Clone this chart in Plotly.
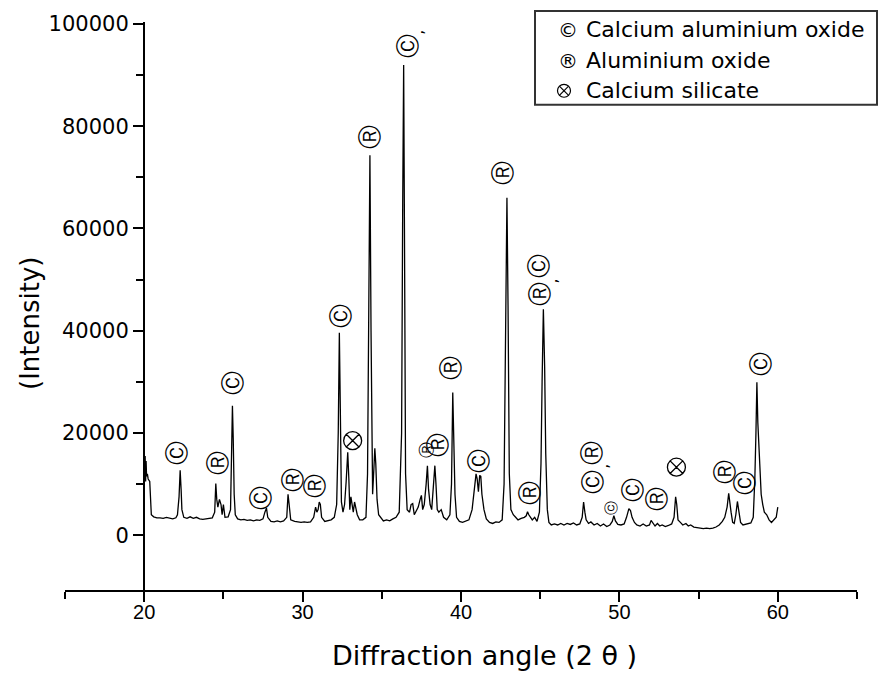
import plotly.graph_objects as go

# ---- XRD pattern (2-theta in degrees, intensity in counts) ----
two_theta = [
    20.00, 20.03, 20.06, 20.09, 20.12, 20.15, 20.20, 20.25, 20.35, 20.45, 20.60, 20.80,
    21.00, 21.20, 21.40, 21.60, 21.80, 22.00, 22.10, 22.20, 22.27, 22.33, 22.38, 22.50, 22.70, 22.90, 23.10, 23.30, 23.50, 23.70, 23.90, 24.10, 24.30,
    24.45, 24.52, 24.58, 24.65, 24.75, 24.85, 24.92, 25.00, 25.10, 25.30, 25.45, 25.52, 25.57, 25.62, 25.68, 25.75, 25.90, 26.10, 26.30, 26.50, 26.70, 26.90, 27.10, 27.30, 27.50, 27.62, 27.72, 27.80,
    28.00, 28.20, 28.40, 28.60, 28.80, 29.00, 29.08, 29.15, 29.25, 29.50, 29.70, 29.90, 30.10, 30.30, 30.50, 30.70, 30.82, 30.90, 30.98, 31.05, 31.12, 31.20, 31.40, 31.60, 31.80,
    32.00, 32.15, 32.25, 32.32, 32.38, 32.45, 32.55, 32.65, 32.75, 32.85, 32.92, 32.98, 33.05, 33.12, 33.20, 33.28, 33.35, 33.45, 33.60, 33.80, 34.00, 34.10, 34.18, 34.25, 34.32, 34.42, 34.50, 34.56, 34.62, 34.70, 34.80, 34.95, 35.10, 35.30, 35.50, 35.70, 35.90,
    36.10, 36.25, 36.32, 36.38, 36.43, 36.50, 36.60, 36.75, 36.85, 36.95, 37.05, 37.15, 37.30, 37.42, 37.50, 37.58, 37.68, 37.80, 37.88, 37.95, 38.05, 38.15, 38.25, 38.35, 38.42, 38.50, 38.60, 38.75, 38.90,
    39.10, 39.30, 39.40, 39.48, 39.55, 39.62, 39.72, 39.90, 40.10, 40.30, 40.50, 40.70, 40.85, 40.95, 41.02, 41.10, 41.18, 41.25, 41.32, 41.45, 41.60, 41.80,
    42.00, 42.20, 42.40, 42.60, 42.72, 42.82, 42.90, 42.97, 43.05, 43.15, 43.30, 43.45, 43.60, 43.80, 44.00, 44.12, 44.20, 44.28, 44.38, 44.50, 44.65, 44.80, 44.95, 45.05, 45.12, 45.20, 45.28, 45.35, 45.45, 45.55, 45.70, 45.90,
    46.10, 46.30, 46.50, 46.70, 46.90, 47.10, 47.30, 47.50, 47.65, 47.74, 47.82, 47.90, 48.05, 48.20, 48.40, 48.60, 48.80, 49.00, 49.20, 49.40, 49.55, 49.65, 49.75, 49.90,
    50.10, 50.30, 50.45, 50.60, 50.70, 50.80, 50.95, 51.10, 51.30, 51.50, 51.70, 51.90, 52.00, 52.10, 52.25, 52.40, 52.55, 52.70, 52.90, 53.10, 53.30, 53.45, 53.55, 53.62, 53.70, 53.85, 54.00,
    54.20, 54.35, 54.50, 54.70, 54.90, 55.10, 55.30, 55.50, 55.70, 55.90, 56.10, 56.30, 56.50, 56.65, 56.80, 56.90, 56.97, 57.05, 57.15, 57.25, 57.35, 57.45, 57.55, 57.65, 57.80, 57.95,
    58.10, 58.30, 58.45, 58.55, 58.62, 58.68, 58.74, 58.80, 58.88, 58.95, 59.05, 59.15, 59.30, 59.45, 59.60, 59.75, 59.90, 60.00,
]
intensity = [
    16500, 11000, 15500, 10500, 14500, 11500, 12000, 11000, 10500, 4000, 3600, 3400,
    3400, 3300, 3500, 3300, 3200, 3400, 4000, 7500, 12700, 9000, 5000, 3500, 3300, 3600, 3300, 3500, 3200, 3100, 3200, 3300, 3400,
    4500, 10100, 7000, 5500, 7000, 6000, 4000, 6000, 3500, 3600, 5000, 18000, 25300, 19000, 8000, 4000, 3200, 3000, 3100, 2900, 3000, 2800, 3000, 2900, 3200, 4500, 5300, 3500,
    2700, 2600, 2800, 2600, 2800, 3500, 8000, 6000, 3000, 2700, 2600, 2500, 2600, 2500, 2600, 3500, 5500, 4500, 5000, 6500, 6000, 3500, 2700, 2800, 3000,
    3500, 6000, 20000, 39600, 25000, 6500, 4500, 6000, 10500, 16200, 11000, 5000, 7500, 6000, 4500, 6500, 5500, 4000, 3000, 3000, 3500, 12000, 45000, 74300, 40000, 8000, 13000, 17000, 14000, 7000, 4000, 3300, 2800, 3000, 2800, 3200, 3500,
    4500, 20000, 65000, 92000, 60000, 12000, 5000, 4500, 6000, 6200, 4000, 4500, 5500, 7000, 7800, 5000, 6000, 10000, 13600, 9000, 6000, 5000, 9000, 13600, 10000, 5000, 4500, 5000, 3500,
    3000, 4000, 10000, 27900, 20000, 8000, 3500, 2700, 2500, 2800, 3000, 5000, 9000, 12000, 11000, 8500, 11700, 11500, 8000, 5000, 3200, 2500,
    2300, 2600, 2500, 3000, 10000, 35000, 66000, 45000, 12000, 5000, 4000, 3500, 3000, 3300, 3500, 3800, 4600, 4000, 3500, 3000, 3500, 2700, 4500, 14000, 30000, 44200, 33000, 16000, 5000, 2500, 2000, 2200,
    2000, 2300, 2000, 2300, 2100, 2400, 2000, 2200, 3500, 6500, 4500, 3000, 2300, 2600, 2000, 2300, 1800, 2200, 1700, 2000, 2700, 3800, 2800, 2100,
    2000, 2200, 3500, 5200, 4800, 3500, 2500, 2000, 1800, 2200, 1800, 2000, 2900, 2500, 1800, 2300, 1800, 2000, 1700, 1900, 2200, 3500, 7500, 6000, 3000, 2500, 2000,
    2300, 1800, 2000, 1600, 1500, 1400, 1300, 1400, 1300, 1400, 1600, 2000, 2700, 3500, 5500, 8200, 6000, 4500, 2500, 2300, 4000, 6600, 4500, 2500, 2000, 2100,
    2300, 2400, 3500, 11000, 20000, 29900, 22000, 17000, 12000, 8000, 6000, 4500, 4000, 3000, 2500, 3000, 3500, 5500,
]
if len(two_theta) != len(intensity):
    raise ValueError(f"length mismatch {len(two_theta)} vs {len(intensity)}")

# ---- Phase labels above peaks ----
label_theta = [22.12, 24.65, 25.6, 27.4, 29.38, 30.76, 32.4, 34.3, 36.63,
               37.8, 38.5, 39.34, 41.1, 42.68, 44.38, 44.95, 45.0, 48.3, 48.3, 49.5,
               50.9, 52.4, 56.7, 57.9, 58.95]
label_intensity = [16000, 14000, 29800, 7400, 10700, 9500, 42900, 77800, 95700,
                   16600, 17700, 32700, 14600, 71000, 8400, 52800, 47200, 10500, 16200, 5500,
                   8800, 7200, 12300, 10100, 33500]
label_phase = ["C", "R", "C", "C", "R", "R", "C", "R", "C",
               "r", "R", "R", "C", "R", "R", "C", "R", "C", "R", "c",
               "C", "R", "R", "C", "C"]
silicate_theta = [33.16, 36.63, 53.6]
silicate_intensity = [18500, 101200, 13300]
comma_theta = [37.26, 45.71, 48.92]
comma_intensity = [98400, 49700, 13450]

legend_symbols = ["©", "®", None]
legend_names = ["Calcium aluminium oxide", "Aluminium oxide", "Calcium silicate"]

glyph = {"C": ("Ⓒ", 24), "R": ("Ⓡ", 24), "c": ("ⓒ", 14), "r": ("Ⓡ", 16)}

# pixel helpers for paper placement (plot area 65..857 x 20..590)
def px_x(p):
    return (p - 65) / 792.0

def px_y(p):
    return (590 - p) / 570.0

fig = go.Figure()
fig.add_trace(go.Scatter(x=two_theta, y=intensity, mode="lines",
                         line=dict(color="black", width=1.3), hoverinfo="x+y",
                         cliponaxis=False))
fig.add_trace(go.Scatter(x=silicate_theta, y=silicate_intensity, mode="markers",
                         marker=dict(symbol="circle-x-open", size=18, color="black",
                                     line=dict(width=1.3, color="black")),
                         cliponaxis=False, hoverinfo="skip"))

for xv, yv, ph in zip(label_theta, label_intensity, label_phase):
    txt, sz = glyph[ph]
    fig.add_annotation(x=xv, y=yv, xref="x", yref="y", text=txt, showarrow=False,
                       textangle=-90, xanchor="center", yanchor="middle",
                       font=dict(family="DejaVu Sans", size=sz, color="black"))
for xv, yv in zip(comma_theta, comma_intensity):
    fig.add_annotation(x=xv, y=yv, xref="x", yref="y", text=",", showarrow=False,
                       textangle=-90, font=dict(family="DejaVu Sans", size=16, color="black"))

# legend box
fig.add_shape(type="rect", xref="paper", yref="paper", x0=px_x(535), x1=px_x(877),
              y0=px_y(103), y1=px_y(9), line=dict(color="#333333", width=2),
              fillcolor="white", layer="below")
legend_rows = [28, 59, 89]
for sym, name, row in zip(legend_symbols, legend_names, legend_rows):
    if sym:
        fig.add_annotation(x=px_x(556), y=px_y(row), xref="paper", yref="paper",
                           text=sym, showarrow=False, xanchor="left", yanchor="middle",
                           font=dict(family="DejaVu Sans", size=20, color="black"))
    fig.add_annotation(x=px_x(584), y=px_y(row), xref="paper", yref="paper",
                       text=name, showarrow=False, xanchor="left", yanchor="middle",
                       font=dict(family="DejaVu Sans", size=22, color="black"))
# ⊗ symbol of the legend (thin circle with a cross)
cx, cy, r = 564, 89, 6.5
fig.add_shape(type="circle", xref="paper", yref="paper", x0=px_x(cx - r), x1=px_x(cx + r),
              y0=px_y(cy + r), y1=px_y(cy - r), line=dict(color="black", width=1.2))
d = r * 0.707
fig.add_shape(type="line", xref="paper", yref="paper", x0=px_x(cx - d), x1=px_x(cx + d),
              y0=px_y(cy - d), y1=px_y(cy + d), line=dict(color="black", width=1.2))
fig.add_shape(type="line", xref="paper", yref="paper", x0=px_x(cx - d), x1=px_x(cx + d),
              y0=px_y(cy + d), y1=px_y(cy - d), line=dict(color="black", width=1.2))

# axis titles
fig.add_annotation(x=px_x(484), y=px_y(656), xref="paper", yref="paper",
                   text="Diffraction angle (2 θ )", showarrow=False,
                   xanchor="center", yanchor="middle",
                   font=dict(family="DejaVu Sans", size=27, color="black"))
fig.add_annotation(x=px_x(30), y=px_y(323), xref="paper", yref="paper",
                   text="(Intensity)", showarrow=False, textangle=-90,
                   xanchor="center", yanchor="middle",
                   font=dict(family="DejaVu Sans", size=26, color="black"))

fig.update_layout(
    width=879, height=676,
    margin=dict(l=65, r=22, t=20, b=86),
    plot_bgcolor="white", paper_bgcolor="white",
    showlegend=False,
    xaxis=dict(range=[15, 65], showline=True, linecolor="black", linewidth=2,
               ticks="outside", ticklen=10, tickwidth=2, tickcolor="black",
               ticklabelstandoff=-7,
               tickmode="array", tickvals=[20, 30, 40, 50, 60],
               minor=dict(tickmode="array", tickvals=[15, 25, 35, 45, 55, 65],
                          ticks="outside", ticklen=7, tickwidth=2, tickcolor="black"),
               showgrid=False, zeroline=False,
               tickfont=dict(family="Liberation Sans", size=20, color="black")),
    yaxis=dict(range=[-10720, 100390], anchor="free", position=0.0997,
               showline=True, linecolor="black", linewidth=2,
               ticks="outside", ticklen=10, tickwidth=2, tickcolor="black",
               tickmode="array", tickvals=[0, 20000, 40000, 60000, 80000, 100000],
               tickformat="d",
               minor=dict(tickmode="array", tickvals=[10000, 30000, 50000, 70000, 90000],
                          ticks="outside", ticklen=7, tickwidth=2, tickcolor="black"),
               showgrid=False, zeroline=False,
               tickfont=dict(family="DejaVu Sans", size=21, color="black")),
)

fig.write_html("out.html", config={"displayModeBar": False},
               post_script="document.body.style.margin='0';")
